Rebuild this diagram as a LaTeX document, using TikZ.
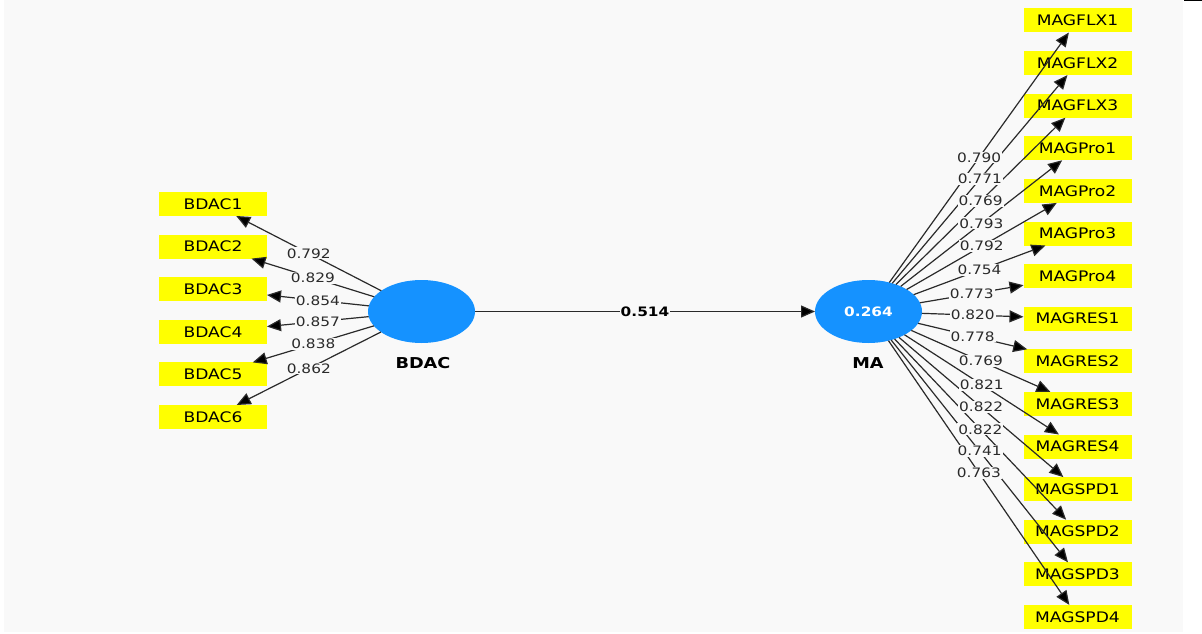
\documentclass[tikz,border=0pt]{standalone}
\usepackage{fontspec}
\setmainfont{DejaVu Sans}[FakeStretch=1.18]
\usetikzlibrary{arrows.meta,shapes.geometric}
\definecolor{bgc}{HTML}{F9F9F9}
\definecolor{lvc}{HTML}{1592FF}
\definecolor{indc}{HTML}{FFFF00}
\definecolor{lnc}{HTML}{2A2A2A}
\tikzset{
  indbox/.style={fill=indc, minimum width=108pt, minimum height=24pt, inner sep=0pt, outer sep=0pt,
    font=\fontsize{14.5}{16}\selectfont, text=black},
  latent/.style={ellipse, fill=lvc, minimum width=107pt, minimum height=63pt, inner sep=0pt, outer sep=0pt},
  conn/.style={draw=lnc, line width=1.2pt, -{Triangle[length=14pt,width=12pt,fill=black]}},
  lbl/.style={fill=bgc, inner sep=1pt, text=lnc, font=\fontsize{13}{15}\selectfont},
  bold lbl/.style={lbl, font=\fontsize{13}{15}\selectfont\bfseries, text=black},
  latent lbl/.style={font=\fontsize{15}{17}\selectfont\bfseries, text=black},
}
\begin{document}
\begin{tikzpicture}[x=1pt,y=-1pt]
\useasboundingbox (0,0) rectangle (1202,634);
\fill[bgc] (4,0) rectangle (1183,632);
\fill[black] (1184,0) rectangle (1202,1.5);

% latent variables
\node[latent] (BDAC) at (421.5,311.5) {};
\node[latent] (MA) at (868.5,311.5) {\fontsize{13}{15}\selectfont\bfseries\color{white}0.264};
\node[latent lbl] (BDAClbl) at (423,363) {BDAC};
\node[latent lbl] (MAlbl) at (868,363) {MA};

% indicators
\foreach \n [count=\i from 0] in {BDAC1,BDAC2,BDAC3,BDAC4,BDAC5,BDAC6}
  \node[indbox] (\n) at (213,204+42.6*\i) {\n};
\foreach \n [count=\i from 0] in {MAGFLX1,MAGFLX2,MAGFLX3,MAGPro1,MAGPro2,MAGPro3,MAGPro4,MAGRES1,MAGRES2,MAGRES3,MAGRES4,MAGSPD1,MAGSPD2,MAGSPD3,MAGSPD4}
  \node[indbox] (\n) at (1077.5,20.5+42.6*\i) {\n};

% connectors
\foreach \n in {BDAC1,BDAC2,BDAC3,BDAC4,BDAC5,BDAC6}
  \draw[conn] (BDAC) -- (\n);
\foreach \n in {MAGFLX1,MAGFLX2,MAGFLX3,MAGPro1,MAGPro2,MAGPro3,MAGPro4,MAGRES1,MAGRES2,MAGRES3,MAGRES4,MAGSPD1,MAGSPD2,MAGSPD3,MAGSPD4}
  \draw[conn] (MA) -- (\n);
\draw[conn] (BDAC) -- (MA);

% loading labels
\foreach \n/\v in {BDAC1/0.792,BDAC2/0.829,BDAC3/0.854,BDAC4/0.857,BDAC5/0.838,BDAC6/0.862}
  \path (BDAC) -- (\n) node[midway,lbl] {\v};
\foreach \n/\v in {MAGFLX1/0.790,MAGFLX2/0.771,MAGFLX3/0.769,MAGPro1/0.793,MAGPro2/0.792,MAGPro3/0.754,MAGPro4/0.773,MAGRES1/0.820,MAGRES2/0.778,MAGRES3/0.769,MAGRES4/0.821,MAGSPD1/0.822,MAGSPD2/0.822,MAGSPD3/0.741,MAGSPD4/0.763}
  \path (MA) -- (\n) node[midway,lbl] {\v};
\path (BDAC) -- (MA) node[midway,bold lbl] {0.514};
\end{tikzpicture}
\end{document}
